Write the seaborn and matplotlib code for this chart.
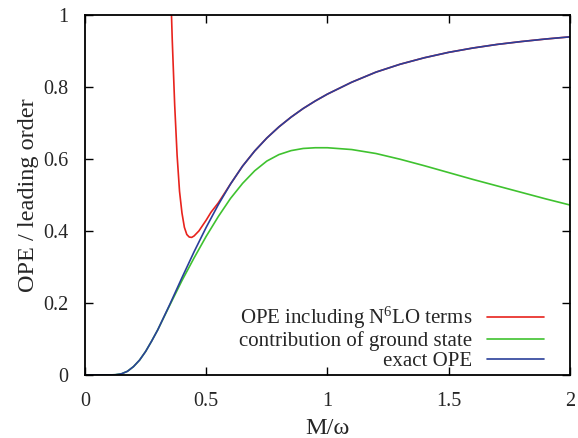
import numpy as np
import pandas as pd
import matplotlib
matplotlib.use("Agg")
import matplotlib.pyplot as plt
import seaborn as sns
from matplotlib.ticker import FuncFormatter

# ---- data ----
exact_x = [0.0, 0.05, 0.10, 0.125, 0.15, 0.175, 0.20, 0.225, 0.25, 0.275, 0.30, 0.35,
           0.40, 0.45, 0.50, 0.55, 0.60, 0.65, 0.70, 0.75, 0.80, 0.85, 0.90, 0.95,
           1.00, 1.10, 1.20, 1.30, 1.40, 1.50, 1.60, 1.70, 1.80, 1.90, 2.00]
exact_y = [0.0, 0.0, 0.0, 0.0005, 0.003, 0.010, 0.023, 0.041, 0.065, 0.094, 0.125, 0.196,
           0.270, 0.342, 0.410, 0.473, 0.530, 0.580, 0.622, 0.658, 0.689, 0.716, 0.740, 0.761,
           0.780, 0.813, 0.841, 0.863, 0.881, 0.896, 0.908, 0.918, 0.926, 0.933, 0.939]

ground_x = [0.0, 0.05, 0.10, 0.125, 0.15, 0.175, 0.20, 0.225, 0.25, 0.275, 0.30, 0.35,
            0.40, 0.45, 0.50, 0.55, 0.60, 0.65, 0.70, 0.75, 0.80, 0.85, 0.90, 0.95,
            1.00, 1.10, 1.20, 1.30, 1.40, 1.50, 1.60, 1.70, 1.80, 1.90, 2.00]
ground_y = [0.0, 0.0, 0.0, 0.0005, 0.003, 0.010, 0.023, 0.041, 0.065, 0.094, 0.125, 0.194,
            0.262, 0.325, 0.385, 0.440, 0.490, 0.532, 0.567, 0.594, 0.612, 0.623, 0.629, 0.631,
            0.631, 0.626, 0.615, 0.599, 0.581, 0.562, 0.543, 0.525, 0.507, 0.489, 0.472]

n6lo_x = [0.35, 0.36, 0.37, 0.38, 0.39, 0.40, 0.41, 0.42, 0.43, 0.44, 0.45, 0.46,
          0.47, 0.48, 0.49, 0.50, 0.52, 0.55, 0.60, 0.65, 0.70, 0.75, 0.80, 0.85,
          0.90, 0.95, 1.00, 1.10, 1.20, 1.30, 1.40, 1.50, 1.60, 1.70, 1.80, 1.90, 2.00]
n6lo_y = [1.15, 0.93, 0.75, 0.61, 0.51, 0.45, 0.41, 0.39, 0.383, 0.382, 0.386, 0.393,
          0.400, 0.410, 0.420, 0.430, 0.452, 0.478, 0.530, 0.580, 0.622, 0.658, 0.689, 0.716,
          0.740, 0.761, 0.780, 0.813, 0.841, 0.863, 0.881, 0.896, 0.908, 0.918, 0.926, 0.933, 0.939]

labels = ["OPE including N$^6$LO terms", "contribution of ground state", "exact OPE"]
colors = ["#e8231d", "#3fc22f", "#2a3f9a"]
x_ticks = [0, 0.5, 1, 1.5, 2]
y_ticks = [0, 0.2, 0.4, 0.6, 0.8, 1]

sns.set_style("ticks")
plt.rcParams["font.family"] = ["Liberation Serif", "DejaVu Serif"]
plt.rcParams["mathtext.fontset"] = "custom"
plt.rcParams["mathtext.rm"] = "Liberation Serif"
plt.rcParams["mathtext.default"] = "regular"

fig = plt.figure(figsize=(5.78, 4.38), dpi=100)
ax = fig.add_axes([0.147, 0.144, 0.839, 0.822])

series = [(n6lo_x, n6lo_y), (ground_x, ground_y), (exact_x, exact_y)]
for (xs, ys), lab, col in zip(series, labels, colors):
    df = pd.DataFrame({"x": xs, "y": ys})
    sns.lineplot(data=df, x="x", y="y", ax=ax, color=col, linewidth=1.2,
                 label=lab, sort=False)

ax.set_xlim(0, 2)
ax.set_ylim(0, 1)
ax.set_xticks(x_ticks)
ax.set_yticks(y_ticks)
fmt = FuncFormatter(lambda v, p: "%g" % v)
ax.xaxis.set_major_formatter(fmt)
ax.yaxis.set_major_formatter(fmt)
ax.tick_params(direction="in", length=6, width=1.0, top=True, right=True,
               labelsize=14.5, color="black")
ax.tick_params(axis="x", pad=12)
ax.tick_params(axis="y", pad=12)
for s in ax.spines.values():
    s.set_linewidth(1.3)
    s.set_color("black")
ax.set_xlabel("M/ω", fontsize=17.5, labelpad=5)
ax.set_ylabel("OPE / leading order", fontsize=17.5, labelpad=3)

leg = ax.legend(loc="lower right", frameon=False, markerfirst=False,
                fontsize=15.0, handlelength=2.75, handletextpad=0.7,
                labelspacing=0.0, borderaxespad=0.0,
                bbox_to_anchor=(0.964, -0.012))

fig.savefig("out.png", dpi=100)
